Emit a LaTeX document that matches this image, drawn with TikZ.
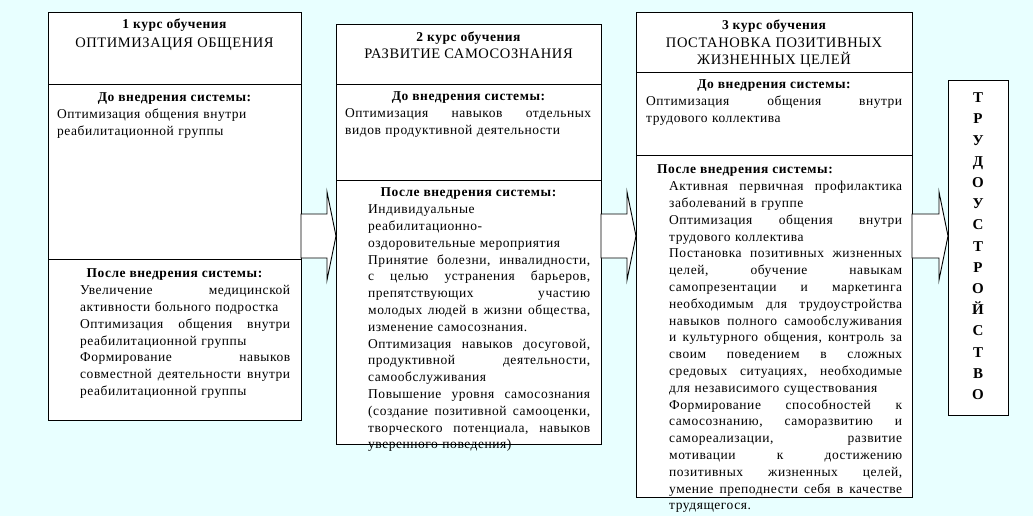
\documentclass[tikz,border=0pt]{standalone}
\usepackage{fontspec}
\setmainfont{Liberation Serif}[LetterSpace=4]
\usetikzlibrary{calc}
\definecolor{bgc}{RGB}{232,255,255}
\setlength{\parindent}{0pt}
\newlength\jw
\def\jlend{\jlend}
\def\jlsplit#1 #2\jlend{#1\if\relax\detokenize{#2}\relax\else\hfill\jlsplit#2\jlend\fi}
\newcommand\jl[1]{\leavevmode\hbox to \jw{\jlsplit#1 \jlend}}
\newcommand\blockarrow[2]{%
  \draw[arr] (#1.east |- ashaftT) -- ($(#2.west |- ashaftT)+(-9,0)$) -- ($(#2.west |- aheadT)+(-9,0)$)
    -- (#2.west |- amid) -- ($(#2.west |- aheadB)+(-9,0)$) -- ($(#2.west |- ashaftB)+(-9,0)$)
    -- (#1.east |- ashaftB) -- cycle;}
\tikzset{
  box/.style={draw, fill=white, line width=0.9pt, anchor=north west, inner sep=0pt, outer sep=0pt},
  rule/.style={line width=0.9pt},
  arr/.style={draw, fill=white, line width=0.9pt, line join=miter},
  txt/.style={font=\fontsize{13.5}{16.8}\selectfont, inner sep=0pt, anchor=north west, align=left,
    text width=#1, /utils/exec={\setlength\jw{#1pt}}},
  hd/.style={font=\fontsize{13.5}{16.8}\selectfont\bfseries, inner sep=0pt, anchor=base},
  ttl/.style={font=\fontsize{14.5}{16.8}\selectfont, inner sep=0pt, anchor=base},
  vert/.style={font=\fontsize{15}{21.2}\selectfont\bfseries, inner sep=0pt, anchor=north, align=center},
}
\begin{document}
\begin{tikzpicture}[x=1pt,y=-1pt]
\useasboundingbox (0,0) rectangle (1033,516);
\fill[bgc] (0,0) rectangle (1033,516);
% boxes
\node[box, minimum width=253, minimum height=408] (b1) at (48,12) {};
\node[box, minimum width=265, minimum height=420] (b2) at (336,24) {};
\node[box, minimum width=276, minimum height=485] (b3) at (636,12) {};
\node[box, minimum width=60, minimum height=335] (b4) at (948,80) {};
% dividers
\draw[rule] ($(b1.north west)+(0,72)$) -- ($(b1.north east)+(0,72)$);
\draw[rule] ($(b1.north west)+(0,247)$) -- ($(b1.north east)+(0,247)$);
\draw[rule] ($(b2.north west)+(0,60)$) -- ($(b2.north east)+(0,60)$);
\draw[rule] ($(b2.north west)+(0,156)$) -- ($(b2.north east)+(0,156)$);
\draw[rule] ($(b3.north west)+(0,60)$) -- ($(b3.north east)+(0,60)$);
\draw[rule] ($(b3.north west)+(0,143)$) -- ($(b3.north east)+(0,143)$);
% arrows
\coordinate (ashaftT) at (0,214);
\coordinate (ashaftB) at (0,258);
\coordinate (aheadT) at (0,192);
\coordinate (aheadB) at (0,280);
\coordinate (amid) at (0,236);
\blockarrow{b1}{b2}
\blockarrow{b2}{b3}
\blockarrow{b3}{b4}
% box 1
\node[hd] (t1a) at (174.5,29) {1 курс обучения};
\node[ttl] (t1b) at (174.5,48) {ОПТИМИЗАЦИЯ ОБЩЕНИЯ};
\node[hd] (h1a) at (174.5,101.5) {До внедрения системы:};
\node[txt=230] (p1a) at (57,106.7) {\strut Оптимизация общения внутри\\реабилитационной группы};
\node[hd] (h1b) at (174.5,277.5) {После внедрения системы:};
\node[txt=210] (p1b) at (80,282.7) {\strut\jl{Увеличение медицинской}\\активности больного подростка\\\jl{Оптимизация общения внутри}\\реабилитационной группы\\\jl{Формирование навыков}\\\jl{совместной деятельности внутри}\\реабилитационной группы};
% box 2
\node[hd] (t2a) at (468.5,42) {2 курс обучения};
\node[ttl] (t2b) at (468.5,59) {РАЗВИТИЕ САМОСОЗНАНИЯ};
\node[hd] (h2a) at (468.5,100.5) {До внедрения системы:};
\node[txt=246] (p2a) at (345,105.7) {\strut\jl{Оптимизация навыков отдельных}\\видов продуктивной деятельности};
\node[hd] (h2b) at (468.5,196.5) {После внедрения системы:};
\node[txt=222] (p2b) at (368,201.7) {\strut Индивидуальные\\реабилитационно-\\оздоровительные мероприятия\\\jl{Принятие болезни, инвалидности,}\\\jl{с целью устранения барьеров,}\\\jl{препятствующих участию}\\\jl{молодых людей в жизни общества,}\\изменение самосознания.\\\jl{Оптимизация навыков досуговой,}\\\jl{продуктивной деятельности,}\\самообслуживания\\\jl{Повышение уровня самосознания}\\\jl{(создание позитивной самооценки,}\\\jl{творческого потенциала, навыков}\\уверенного поведения)};
% box 3
\node[hd] (t3a) at (774,29.5) {3 курс обучения};
\node[ttl] (t3b) at (774,48) {ПОСТАНОВКА ПОЗИТИВНЫХ};
\node[ttl] (t3c) at (774,65) {ЖИЗНЕННЫХ ЦЕЛЕЙ};
\node[hd] (h3a) at (774,88.5) {До внедрения системы:};
\node[txt=256] (p3a) at (646,93.7) {\strut\jl{Оптимизация общения внутри}\\трудового коллектива};
\node[hd, anchor=base west] (h3b) at (657,173.5) {После внедрения системы:};
\node[txt=233] (p3b) at (669,178.7) {\strut\jl{Активная первичная профилактика}\\заболеваний в группе\\\jl{Оптимизация общения внутри}\\трудового коллектива\\\jl{Постановка позитивных жизненных}\\\jl{целей, обучение навыкам}\\\jl{самопрезентации и маркетинга}\\\jl{необходимым для трудоустройства}\\\jl{навыков полного самообслуживания}\\\jl{и культурного общения, контроль за}\\\jl{своим поведением в сложных}\\\jl{средовых ситуациях, необходимые}\\для независимого существования\\\jl{Формирование способностей к}\\\jl{самосознанию, саморазвитию и}\\\jl{самореализации, развитие}\\\jl{мотивации к достижению}\\\jl{позитивных жизненных целей,}\\\jl{умение преподнести себя в качестве}\\трудящегося.};
% box 4
\node[vert] (v4) at (978,87.7) {\strut Т\\Р\\У\\Д\\О\\У\\С\\Т\\Р\\О\\Й\\С\\Т\\В\\О};
\end{tikzpicture}
\end{document}
